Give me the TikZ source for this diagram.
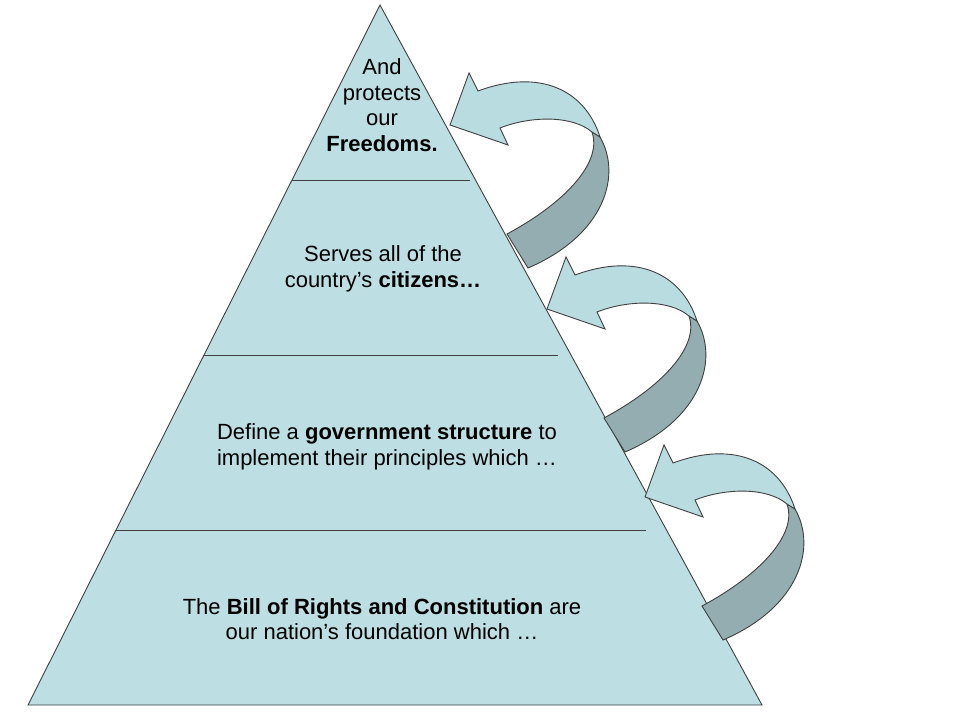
\documentclass[tikz,border=0pt]{standalone}
\usepackage{fontspec}
\setmainfont{Liberation Sans}
\definecolor{pyr}{HTML}{BDDFE3}
\definecolor{arl}{HTML}{B9DCE0}
\definecolor{ard}{HTML}{93ADB0}
\begin{document}
\begin{tikzpicture}[x=1pt,y=-1pt,
  edge/.style={draw=black!75,line width=0.9pt},
  lbl/.style={align=center,font=\fontsize{22}{25.5}\selectfont}]
\useasboundingbox (0,0) rectangle (960,720);
\fill[white] (0,0) rectangle (960,720);
\coordinate (A) at (380,5);
\coordinate (L) at (28,705);
\coordinate (R) at (762,705);
\path[edge,fill=pyr] (A) -- (L) -- (R) -- cycle;
\draw[edge] (292,180) -- (470,180);
\draw[edge] (203,355) -- (558,355);
\draw[edge] (115,530) -- (646,530);
\node[lbl] (t1) at (382,105) {And\\protects\\our\\\textbf{Freedoms.}};
\node[lbl] (t2) at (383,269) {Serves all of the\\country’s \textbf{citizens…}};
\node[lbl] (t3) at (387,447) {Define a \textbf{government structure} to\\implement their principles which …};
\node[lbl] (t4) at (382,619) {The \textbf{Bill of Rights and Constitution} are\\our nation’s foundation which …};
\foreach \dx/\dy in {0/0,97/184,195/372}{
\begin{scope}[shift={(\dx,\dy)}]
\path[edge,fill=ard] (600,137) .. controls (622,175) and (605,235) .. (528,268)
  -- (507,234) .. controls (570,200) and (602,160) .. (592,132) -- cycle;
\path[edge,fill=arl] (450,125) -- (469,73) -- (478,91)
  .. controls (540,68) and (585,90) .. (600,137) -- (592,132)
  .. controls (572,115) and (530,116) .. (500,128) -- (508,145) -- cycle;
\end{scope}}
\end{tikzpicture}
\end{document}
